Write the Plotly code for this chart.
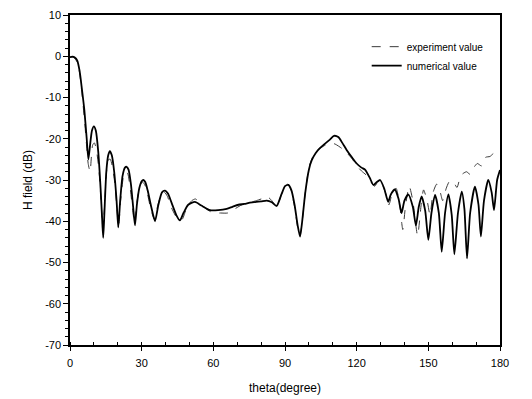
import plotly.graph_objects as go

# numerical value (solid)
num_theta = [0, 1, 2, 3, 4, 5, 6, 7, 7.7, 8.5, 9.2, 10, 10.8, 11.8, 12.8, 13.5, 13.9, 14.4, 15.2, 16,
             16.7, 17.5, 18.5, 19.5, 20.2, 21, 22, 23, 23.7, 24.5, 25.5, 26.5, 27.2, 28, 29, 30, 30.7,
             31.5, 32.5, 34, 35.6, 37, 38.5, 39.8, 41, 42.5, 44.5, 46, 47.5, 49.5, 52.3, 55, 58.6, 62,
             65.6, 68, 70.5, 73, 75.3, 78, 80, 82.3, 84.5, 86.5, 88.5, 90, 91.4, 92.7, 94, 95.3, 96.3,
             97.2, 98.5, 100, 101.2, 102.8, 104.6, 106.5, 108.8, 110.5, 112.3, 114, 115.8, 118, 120,
             122, 123.5, 125.5, 127, 128.5, 129.8, 131.5, 133.2, 134.3, 136, 137.5, 138.8, 140, 141.6,
             143.5, 144.8, 146, 147.2, 148.7, 150, 151.3, 152.8, 154.4, 155.6, 157, 158.4, 159.8, 160.9,
             162.4, 164, 165.1, 166.2, 167.5, 169.5, 171, 172, 173.3, 175.1, 176.5, 177.5, 178.8, 180]
num_value = [-0.2, -0.1, -0.3, -1.0, -3.5, -8, -13, -20, -25, -21, -18, -17, -18, -23, -32, -40, -44, -38, -28, -24,
             -23, -24, -28, -35, -41.5, -35, -29, -27, -26.8, -27.5, -31, -37, -41, -36, -32, -30.3, -30,
             -30.5, -32.5, -36.5, -40, -36, -33, -32.6, -33.3, -35.5, -38.5, -39.8, -38, -36, -35.3, -36.2, -37.3, -37.3,
             -37, -36.5, -36, -35.8, -35.5, -35.3, -35.2, -35, -35.4, -36.3, -33.5, -31.5, -31.2, -32.5, -36, -41, -43.7,
             -40, -33, -27.5, -25.2, -23.5, -22.3, -21.3, -20.2, -19.3, -19.6, -21, -22.7, -24.5, -26,
             -27, -27.5, -29.5, -31.2, -30.5, -30, -32, -35.3, -33.5, -32.3, -34.5, -38, -35, -33.5,
             -36.5, -41, -36.5, -34, -37.5, -44.5, -38, -33.6, -38, -47.4, -38, -33.5, -38.5, -48,
             -38, -32.8, -37, -49, -38, -31.6, -36, -43.7, -35, -30, -33, -37.3, -30, -27.6]

# experiment value (dashed)
exp_theta = [0, 1, 2, 3, 4, 5, 6, 7, 7.6, 8.4, 9, 9.5, 10.2, 11, 12, 13, 13.7, 14.4, 15.3, 16.2, 16.9,
             17.8, 18.8, 19.8, 20.4, 21.2, 22.3, 23.4, 24.2, 25.2, 26.2, 27, 28, 29.2, 30.3, 31.2, 32.3,
             33.8, 35.3, 36.8, 38.3, 39.6, 40.8, 42.3, 44, 45.5, 47, 49, 51, 52.5, 54.5, 57, 60, 63, 66,
             69, 72, 75, 78, 80.5, 82.5, 84.5, 86.5, 88.5, 90, 91.2, 92.5, 94, 95.3, 96.3, 97.2, 98.5,
             100, 101.5, 103, 105, 107, 109, 111, 113.7, 116, 118, 120, 122, 124, 126, 127.5, 129, 130.5,
             132, 133.5, 135, 136.5, 138, 139.3, 140.5, 142, 143.5, 145.5, 147, 148, 149.5, 150.7, 152,
             153.5, 155, 156, 157.5, 159, 160.5, 162, 163.5, 164.6, 166, 167.4, 169, 170.5, 172.3, 174,
             175.8, 177.5, 179, 180]
exp_value = [-0.3, -0.2, -0.5, -1.5, -4, -9, -15, -22, -26, -28, -24, -21.5, -21, -22.5, -27, -35, -42, -37, -28, -25, -25,
             -27, -31, -38, -41, -35, -29.5, -28, -28.5, -32, -37, -40.5, -35.5, -31.5, -30.5, -31, -33,
             -37, -39.5, -36, -33.5, -33, -34, -36.5, -38.5, -39.8, -39.5, -36.5, -35, -34.6, -35.5, -37, -38, -38, -38,
             -37, -36, -35.5, -35, -34.5, -34, -35, -36.5, -33.5, -31.5, -31, -32.5, -36.5, -41.5, -43.5, -40, -33,
             -27, -24.5, -23, -22.2, -21.5, -21, -21.3, -22.3, -23.5, -24.8, -26.5, -27.8, -28.8, -30.5, -31.5, -30.5, -31,
             -33, -36, -33, -32, -36, -42, -36, -31.5, -35, -43.5, -36, -32.4, -35, -38.5, -33,
             -31, -33, -35, -32, -30.2, -30.5, -31.8, -29, -28.4, -28, -28.6, -27, -26, -26.6, -24.5,
             -24.3, -23.5, -24, -24]

x_ticks = [0, 30, 60, 90, 120, 150, 180]
y_ticks = [10, 0, -10, -20, -30, -40, -50, -60, -70]

FONT = "Liberation Sans, Arial, sans-serif"

fig = go.Figure()
fig.add_trace(go.Scatter(x=exp_theta, y=exp_value, mode="lines", name="experiment value",
                         line=dict(color="#3a3a3a", width=1, dash="dash", shape="spline", smoothing=0.6)))
fig.add_trace(go.Scatter(x=num_theta, y=num_value, mode="lines", name="numerical value",
                         line=dict(color="black", width=1.8, shape="spline", smoothing=0.6)))

fig.update_layout(
    width=532, height=399,
    margin=dict(l=62, r=40, t=7, b=62, autoexpand=False),
    paper_bgcolor="white", plot_bgcolor="white",
    font=dict(family=FONT, color="black", size=11),
    showlegend=True,
    legend=dict(x=0.69, y=0.948, xanchor="left", yanchor="top",
                bgcolor="rgba(0,0,0,0)", font=dict(size=10, family=FONT),
                tracegroupgap=0, itemwidth=30),
)
fig.update_xaxes(range=[0, 180], tickvals=x_ticks, ticktext=[str(v) for v in x_ticks],
                 showgrid=False, zeroline=False, showline=True, linecolor="black", linewidth=1.5,
                 mirror=True, ticks="outside", ticklen=4, tickwidth=1.2, tickcolor="black",
                 minor=dict(dtick=10, ticks="inside", ticklen=3, tickcolor="black", tickwidth=1),
                 tickfont=dict(size=11), ticklabelstandoff=3, automargin=False,
                 title=dict(text="theta(degree)", font=dict(size=12), standoff=16))
fig.update_yaxes(range=[-70, 10], tickvals=y_ticks, ticktext=[str(v) for v in y_ticks],
                 showgrid=False, zeroline=False, showline=True, linecolor="black", linewidth=1.5,
                 mirror=True, ticks="outside", ticklen=5, tickwidth=1.2, tickcolor="black",
                 minor=dict(dtick=2, ticks="outside", ticklen=3, tickcolor="black", tickwidth=1),
                 tickfont=dict(size=11), automargin=False,
                 title=dict(text="H field (dB)", font=dict(size=12), standoff=10))

fig.write_html("out.html")
